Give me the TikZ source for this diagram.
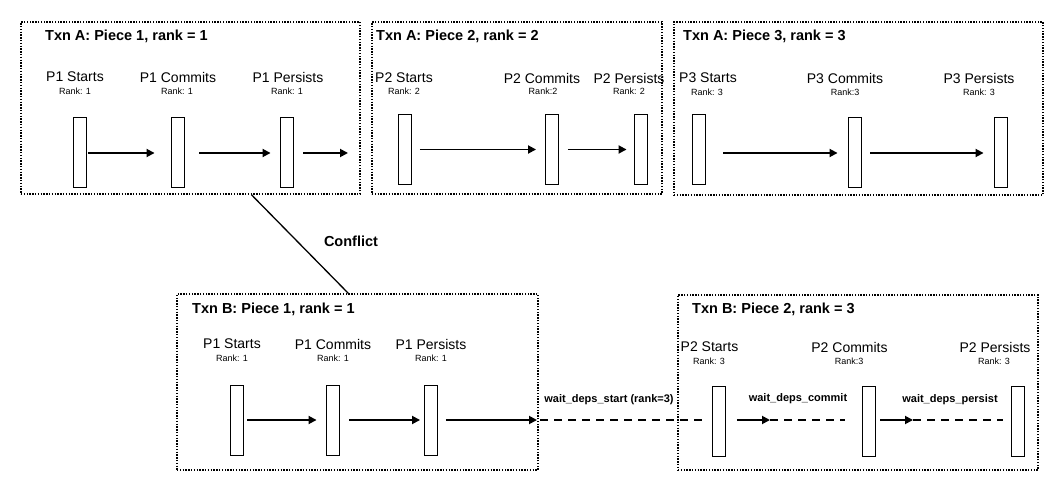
\documentclass[tikz,border=0pt]{standalone}
\usepackage{fontspec}
\setmainfont{Liberation Sans}
\usetikzlibrary{arrows.meta,calc}
\tikzset{
  group/.style={draw, line width=1.3pt, dash pattern=on 1.4pt off 1.4pt, inner sep=0pt},
  bar/.style={draw, line width=0.9pt, fill=white, minimum width=13pt, minimum height=70pt, inner sep=0pt},
  arr/.style={line width=1.8pt, -{Triangle[length=8pt,width=8pt]}},
  waitline/.style={line width=2pt, dash pattern=on 8pt off 6pt},
  ttl/.style={font=\fontsize{14.5}{17}\selectfont\bfseries, anchor=west, inner sep=0pt},
  lbl/.style={font=\fontsize{14}{16}\selectfont, inner sep=0pt},
  rk/.style={font=\fontsize{9}{11}\selectfont, inner sep=0pt},
  wl/.style={font=\fontsize{11}{13}\selectfont\bfseries, inner sep=0pt}
}
\begin{document}
\begin{tikzpicture}[x=1pt,y=-1pt]
\useasboundingbox (0,0) rectangle (1062,486);
% group boxes
\node[group, minimum width=339pt, minimum height=172pt] (A1) at (190.5,108) {};
\node[group, minimum width=290pt, minimum height=172pt] (A2) at (517,108) {};
\node[group, minimum width=369pt, minimum height=173pt] (A3) at (858.5,108.5) {};
\node[group, minimum width=361pt, minimum height=176pt] (B1) at (357.5,382) {};
\node[group, minimum width=360pt, minimum height=175pt] (B2) at (858,382.5) {};
% titles
\node[ttl] (tA1) at (45,36) {Txn A: Piece 1, rank = 1};
\node[ttl] (tA2) at (376,36) {Txn A: Piece 2, rank = 2};
\node[ttl] (tA3) at (683,36) {Txn A: Piece 3, rank = 3};
\node[ttl] (tB1) at (192,309) {Txn B: Piece 1, rank = 1};
\node[ttl] (tB2) at (692,309) {Txn B: Piece 2, rank = 3};
% A1 labels
\node[lbl] (lA11) at (75,77) {P1 Starts};
\node[rk] (rA11) at (75,91) {Rank: 1};
\node[lbl] (lA12) at (178,77) {P1 Commits};
\node[rk] (rA12) at (177,91) {Rank: 1};
\node[lbl] (lA13) at (288,77) {P1 Persists};
\node[rk] (rA13) at (287,91) {Rank: 1};
% A2 labels
\node[lbl] (lA21) at (404,78) {P2 Starts};
\node[rk] (rA21) at (404,91) {Rank: 2};
\node[lbl] (lA22) at (542,78) {P2 Commits};
\node[rk] (rA22) at (543,91) {Rank:2};
\node[lbl] (lA23) at (629,78) {P2 Persists};
\node[rk] (rA23) at (629,91) {Rank: 2};
% A3 labels
\node[lbl] (lA31) at (708,78) {P3 Starts};
\node[rk] (rA31) at (707,92) {Rank: 3};
\node[lbl] (lA32) at (845,78) {P3 Commits};
\node[rk] (rA32) at (845,92) {Rank:3};
\node[lbl] (lA33) at (979,78) {P3 Persists};
\node[rk] (rA33) at (979,92) {Rank: 3};
% B1 labels
\node[lbl] (lB11) at (232,344) {P1 Starts};
\node[rk] (rB11) at (232,358) {Rank: 1};
\node[lbl] (lB12) at (333,344) {P1 Commits};
\node[rk] (rB12) at (333,358) {Rank: 1};
\node[lbl] (lB13) at (431,344) {P1 Persists};
\node[rk] (rB13) at (431,358) {Rank: 1};
% B2 labels
\node[lbl] (lB21) at (709.5,347) {P2 Starts};
\node[rk] (rB21) at (709,361) {Rank: 3};
\node[lbl] (lB22) at (849.5,347) {P2 Commits};
\node[rk] (rB22) at (849,361) {Rank:3};
\node[lbl] (lB23) at (995,347) {P2 Persists};
\node[rk] (rB23) at (994,361) {Rank: 3};
% bars
\node[bar] (a11) at (79.5,152) {};
\node[bar] (a12) at (178,152) {};
\node[bar] (a13) at (287,152) {};
\node[bar] (a21) at (404.5,149.5) {};
\node[bar] (a22) at (552,149.5) {};
\node[bar] (a23) at (640.5,149.5) {};
\node[bar] (a31) at (698.5,149.5) {};
\node[bar] (a32) at (854.5,152) {};
\node[bar] (a33) at (1000.5,152) {};
\node[bar] (b11) at (237,420.5) {};
\node[bar] (b12) at (333,420.5) {};
\node[bar] (b13) at (431,420.5) {};
\node[bar] (b21) at (719,421) {};
\node[bar] (b22) at (868.5,421) {};
\node[bar] (b23) at (1018,421) {};
% free ends
\coordinate (A1end) at (348,153);
\coordinate (B1end) at (537,420);
\coordinate (Bstart) at (540,420);
\coordinate (c2) at (770,420);
\coordinate (c3) at (913,420);
% A1 arrows
\draw[arr, shorten <=1.5pt, shorten >=16.5pt] (a11.east |- A1end) -- (a12.west |- A1end);
\draw[arr, shorten <=14.5pt, shorten >=9.5pt] (a12.east |- A1end) -- (a13.west |- A1end);
\draw[arr, shorten <=9.5pt] (a13.east |- A1end) -- (A1end);
% A2 arrows
\draw[arr, shorten <=8.5pt, shorten >=9pt] (a21.east) -- (a22.west);
\draw[arr, shorten <=9pt, shorten >=7pt] (a22.east) -- (a23.west);
% A3 arrows
\draw[arr, shorten <=18pt, shorten >=10pt] (a31.east |- A1end) -- (a32.west |- A1end);
\draw[arr, shorten <=9pt, shorten >=10pt] (a32.east |- A1end) -- (a33.west |- A1end);
% B1 arrows
\draw[arr, shorten <=3.5pt, shorten >=9.5pt] (b11.east |- B1end) -- (b12.west |- B1end);
\draw[arr, shorten <=9.5pt, shorten >=4pt] (b12.east |- B1end) -- (b13.west |- B1end);
\draw[arr, shorten <=8pt] (b13.east |- B1end) -- (B1end);
% waits
\draw[waitline, shorten >=10pt] (Bstart) -- (b21.west |- Bstart);
\draw[arr, shorten <=11pt] (b21.east |- c2) -- (c2);
\draw[waitline, shorten >=17pt] (c2) -- (b22.west |- c2);
\draw[arr, shorten <=5pt] (b22.east |- c3) -- (c3);
\draw[waitline, shorten >=8pt] (c3) -- (b23.west |- c3);
\node[wl] (w1) at (609,400) {wait\_deps\_start (rank=3)};
\node[wl] (w2) at (798,399) {wait\_deps\_commit};
\node[wl] (w3) at (950,400) {wait\_deps\_persist};
% conflict
\draw[line width=1.3pt] ($(A1.south west)+(231,0)$) -- ($(B1.north west)+(172,0)$);
\node[font=\fontsize{14.5}{17}\selectfont\bfseries, inner sep=0pt] (conf) at (351,241) {Conflict};
\end{tikzpicture}
\end{document}
